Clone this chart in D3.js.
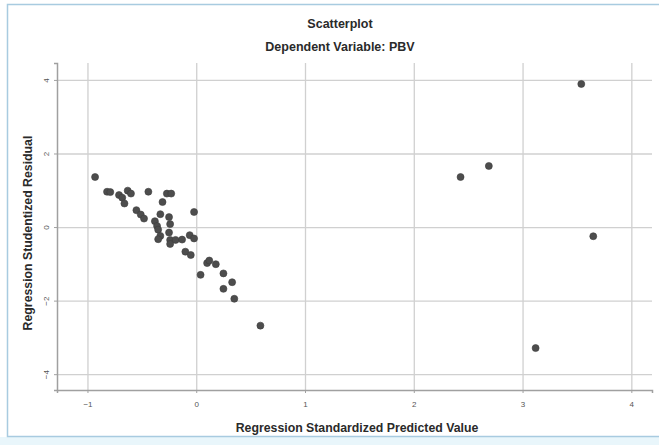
<!DOCTYPE html>
<html>
<head>
<meta charset="utf-8">
<script src="https://cdn.jsdelivr.net/npm/d3@7"></script>
<style>
  body { margin: 0; background: #ffffff; }
  text { font-family: "Liberation Sans", Arial, sans-serif; fill: #2a2a2a; }
  .tick text { font-size: 8px; fill: #555; }
  .grid line { stroke: #d0d0d0; stroke-width: 1.3; }
</style>
</head>
<body>
<div id="chart"></div>
<script>
// Chart data
var predicted = [
  -0.93, -0.82, -0.79, -0.71, -0.68, -0.63, -0.60, -0.66, -0.44, -0.27,
  -0.23, -0.31, -0.55, -0.51, -0.48, -0.33, -0.25, -0.02, -0.38, -0.36,
  -0.35, -0.24, -0.25, -0.33, -0.35, -0.24, -0.19, -0.13, -0.06, -0.02,
  -0.24, -0.10, -0.05, 0.10, 0.12, 0.18, 0.04, 0.25, 0.33, 0.25,
  0.35, 0.59, 2.43, 2.69, 3.54, 3.65, 3.12
];
var residual = [
  1.36, 0.96, 0.95, 0.87, 0.80, 0.99, 0.91, 0.64, 0.96, 0.91,
  0.91, 0.68, 0.46, 0.34, 0.23, 0.35, 0.27, 0.41, 0.16, 0.03,
  -0.07, 0.08, -0.15, -0.24, -0.33, -0.35, -0.35, -0.34, -0.22, -0.31,
  -0.46, -0.67, -0.76, -0.98, -0.91, -1.01, -1.30, -1.26, -1.50, -1.68,
  -1.95, -2.68, 1.36, 1.66, 3.89, -0.25, -3.29
];
var xTicks = [-1, 0, 1, 2, 3, 4];
var yTicks = [-4, -2, 0, 2, 4];

var svgWidth = 659;
var svgHeight = 445;

var margin = { top: 63, right: 7, bottom: 55, left: 57 };
var width = svgWidth - margin.left - margin.right;
var height = svgHeight - margin.top - margin.bottom;

var svg = d3.select("#chart")
  .append("svg")
  .attr("width", svgWidth)
  .attr("height", svgHeight);

// soft blur so the dots look like the scanned original
svg.append("defs").append("filter")
  .attr("id", "soft")
  .append("feGaussianBlur")
  .attr("stdDeviation", 0.45);

// window frame around the chart
svg.append("rect")
  .attr("x", 0).attr("y", 437)
  .attr("width", svgWidth).attr("height", 8)
  .attr("fill", "#e9f6fb");
svg.append("rect")
  .attr("x", 7.5).attr("y", 4.5)
  .attr("width", 670).attr("height", 432)
  .attr("fill", "#ffffff")
  .attr("stroke", "#a8cbe0")
  .attr("stroke-width", 1.5);

var chartGroup = svg.append("g")
  .attr("transform", `translate(${margin.left}, ${margin.top})`);

var xScale = d3.scaleLinear().domain([-1.28, 4.19]).range([0, width]);
var yScale = d3.scaleLinear().domain([-4.43, 4.46]).range([height, 0]);

// grid lines
chartGroup.append("g")
  .attr("class", "grid")
  .attr("transform", `translate(0, ${height})`)
  .call(d3.axisBottom(xScale).tickValues(xTicks).tickSize(-height).tickFormat(""))
  .call(g => g.select(".domain").remove());

chartGroup.append("g")
  .attr("class", "grid")
  .call(d3.axisLeft(yScale).tickValues(yTicks).tickSize(-width).tickFormat(""))
  .call(g => g.select(".domain").remove());

// axes
var xAxis = chartGroup.append("g")
  .attr("transform", `translate(0, ${height})`)
  .call(d3.axisBottom(xScale).tickValues(xTicks).tickSize(3).tickPadding(8).tickFormat(d3.format("d")));

var yAxis = chartGroup.append("g")
  .call(d3.axisLeft(yScale).tickValues(yTicks).tickSize(3).tickFormat(d3.format("d")));

[xAxis, yAxis].forEach(function(ax) {
  ax.select(".domain").attr("stroke", "#a0a0a0").attr("stroke-width", 1.5);
  ax.selectAll(".tick line").attr("stroke", "#a0a0a0");
});

// rotate y tick labels like SPSS
yAxis.selectAll(".tick text")
  .attr("transform", "rotate(-90)")
  .attr("text-anchor", "middle")
  .attr("x", 0)
  .attr("y", -8)
  .attr("dy", "0");

// points
chartGroup.selectAll("circle")
  .data(predicted.map((d, i) => [d, residual[i]]))
  .enter()
  .append("circle")
  .attr("cx", d => xScale(d[0]))
  .attr("cy", d => yScale(d[1]))
  .attr("r", 3.5)
  .attr("fill", "#4e4e4e")
  .attr("stroke", "#3c3c3c")
  .attr("stroke-width", 0.6)
  .attr("filter", "url(#soft)");

// titles
svg.append("text")
  .attr("x", 340).attr("y", 28)
  .attr("text-anchor", "middle")
  .attr("font-size", "12.5px").attr("font-weight", "bold")
  .text("Scatterplot");

svg.append("text")
  .attr("x", 340).attr("y", 51)
  .attr("text-anchor", "middle")
  .attr("font-size", "12.5px").attr("font-weight", "bold")
  .text("Dependent Variable: PBV");

svg.append("text")
  .attr("x", 357).attr("y", 432)
  .attr("text-anchor", "middle")
  .attr("font-size", "12.3px").attr("font-weight", "bold")
  .text("Regression Standardized Predicted Value");

svg.append("text")
  .attr("transform", "translate(32, 233) rotate(-90)")
  .attr("text-anchor", "middle")
  .attr("font-size", "12.3px").attr("font-weight", "bold")
  .text("Regression Studentized Residual");
</script>
</body>
</html>
